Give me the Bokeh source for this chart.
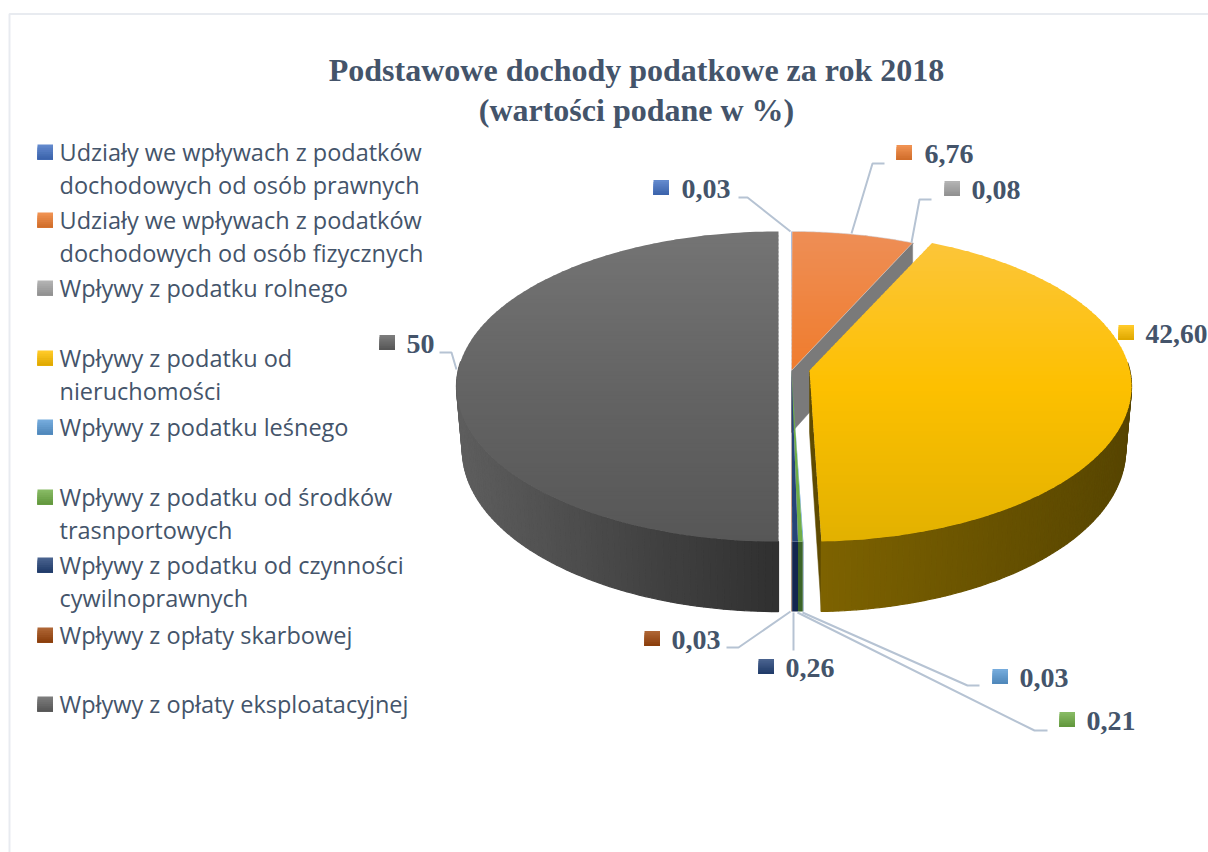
import math
from bokeh.plotting import figure
from bokeh.embed import file_html
from bokeh.resources import INLINE
from bokeh.core.properties import value

# ---- data ----
categories = [
    "Udziały we wpływach z podatków\ndochodowych od osób prawnych",
    "Udziały we wpływach z podatków\ndochodowych od osób fizycznych",
    "Wpływy z podatku rolnego",
    "Wpływy z podatku od\nnieruchomości",
    "Wpływy z podatku leśnego",
    "Wpływy z podatku od środków\ntrasnportowych",
    "Wpływy z podatku od czynności\ncywilnoprawnych",
    "Wpływy z opłaty skarbowej",
    "Wpływy z opłaty eksploatacyjnej",
]
values = [0.03, 6.76, 0.08, 42.60, 0.03, 0.21, 0.26, 0.03, 50.0]
value_labels = ["0,03", "6,76", "0,08", "42,60", "0,03", "0,21", "0,26", "0,03", "50"]
title_lines = ["Podstawowe dochody podatkowe za rok 2018", "(wartości podane w %)"]

# ---- style / layout ----
base_colors = ["#4472c4", "#ed7d31", "#a5a5a5", "#ffc000", "#5b9bd5", "#70ad47", "#264478", "#9e480e", "#636363"]
face_stops = {
    1: ("#ee8e56", "#f07a28", "#e66a1a"),
    3: ("#fcc63e", "#fdc000", "#e2b100"),
    8: ("#747474", "#646464", "#575757"),
}
wall_stops = {3: ("#7d6200", "#574500"), 8: ("#5e5e5e", "#2f2f2f")}
small_wall = {4: "#2f5f8a", 5: "#3b6428", 6: "#13264f", 7: "#5a2a08"}
TEXT = "#44546a"
LEAD = "#b6c3d3"

# slice offset centre x for each slice (explosion)
slice_cx = [791, 791, 791, 809, 791, 791, 791, 791, 778]
APEX_Y, H, K, R = 370.0, 153.4, 0.1033, 320.3
BOTTOM_SHRINK = 0.982

# legend layout: y of first line for each entry
legend_y = [151.5, 219.5, 287.5, 357.5, 426.5, 496.5, 564.5, 634.5, 703.5]
LINE_H = 32.5
# value label marker left x, marker centre y, text x, font px
label_pos = [(653, 187, 681, 28), (896, 152, 924, 28), (944, 188, 971, 28), (1118, 332, 1145, 27.5),
             (992, 676, 1019, 28), (1059, 719, 1086, 28), (758, 666, 785, 28), (644, 638, 671, 28), (379, 342, 406, 28)]
# leader paths: end of label side, elbow, anchor on the pie
leaders = {
    0: [(738, 197), (747, 197), (790, 231)],
    1: [(884, 163), (872, 163), (851, 233)],
    2: [(931, 199), (919, 199), (911, 242)],
    8: [(439, 352), (451, 352), (456, 369)],
    7: [(726, 647), (738, 647), (790, 611)],
    6: [(793, 650), (793, 612)],
    4: [(979, 685), (967, 685), (802, 612)],
    5: [(1047, 730), (1034, 730), (797, 612)],
}


def hex2rgb(c):
    return tuple(int(c[i:i + 2], 16) for i in (1, 3, 5))


def mix(a, b, t):
    ra, rb = hex2rgb(a), hex2rgb(b)
    return "#%02x%02x%02x" % tuple(round(x + (y - x) * t) for x, y in zip(ra, rb))


def lighter(c, t):
    return mix(c, "#ffffff", t)


def darker(c, t):
    return mix(c, "#000000", t)


def project(cx, theta):
    u, v = math.sin(theta), math.cos(theta)
    w = 1 + K * v
    return cx + R * u / w, APEX_Y - H * v / w


def depth(theta):
    return 62 - 8 * math.cos(theta)


def rim(cx, a0, a1, n):
    return [project(cx, a0 + (a1 - a0) * i / n) + (a0 + (a1 - a0) * i / n,) for i in range(n + 1)]


def clip_band(poly, y0, y1):
    def clip(pts, keep, cross):
        out = []
        for i, q0 in enumerate(pts):
            q1 = pts[(i + 1) % len(pts)]
            if keep(q0):
                out.append(q0)
            if keep(q0) != keep(q1):
                out.append(cross(q0, q1))
        return out

    def cr(yy):
        return lambda a, b: (a[0] + (b[0] - a[0]) * (yy - a[1]) / (b[1] - a[1]), yy)

    pts = clip(poly, lambda q: q[1] >= y0, cr(y0))
    if pts:
        pts = clip(pts, lambda q: q[1] <= y1, cr(y1))
    return pts


p = figure(width=1208, height=852, x_range=(0, 1208), y_range=(852, 0),
           output_backend="svg", toolbar_location=None, min_border=0, outline_line_color=None)
p.axis.visible = False
p.grid.visible = False
p.background_fill_color = "#ffffff"
p.border_fill_color = "#ffffff"

# chart frame
p.line([9, 9, 1208], [852, 13.5, 13.5], line_color="#e8ebf0", line_width=2)

# angles per slice
total = sum(values)
angles = []
acc = 0.0
for v in values:
    a0 = acc / total * 2 * math.pi
    acc += v
    angles.append((a0, acc / total * 2 * math.pi))


def draw_wall(points_top, cx, color_fn):
    for (x0, y0, t0), (x1, y1, t1) in zip(points_top, points_top[1:]):
        if math.cos(t0) > 0.05 and math.cos(t1) > 0.05:
            continue
        d0, d1 = depth(t0), depth(t1)
        c = color_fn((x0 + x1) / 2)
        bx0 = cx + (x0 - cx) * BOTTOM_SHRINK
        bx1 = cx + (x1 - cx) * BOTTOM_SHRINK
        p.patch([x0, x1, bx1, bx0], [y0, y1, y1 + d1, y0 + d0], fill_color=c, line_color=c, line_width=1.2)


def draw_face_gradient(poly, stops):
    ymin, ymax = APEX_Y - H / (1 + K), APEX_Y + H / (1 - K)
    ys = [q[1] for q in poly]
    lo, hi = min(ys), max(ys)
    step = 4.0
    y = lo
    while y < hi:
        band = clip_band(poly, y, min(hi, y + step + 1.0))
        if len(band) >= 3:
            t = (y + step / 2 - ymin) / (ymax - ymin)
            c = mix(stops[0], stops[1], min(1, t / 0.5)) if t < 0.5 else mix(stops[1], stops[2], (t - 0.5) / 0.5)
            p.patch([b[0] for b in band], [b[1] for b in band], fill_color=c, line_color=None)
        y += step


def draw_slice_simple(i):
    a0, a1 = angles[i]
    cx = slice_cx[i]
    r = rim(cx, a0, a1, 3)
    if i in small_wall:
        c = small_wall[i]
        p.patch([q[0] for q in r] + [q[0] for q in reversed(r)],
                [q[1] for q in r] + [q[1] + depth(q[2]) for q in reversed(r)],
                fill_color=c, line_color=None)
    p.patch([cx] + [q[0] for q in r], [APEX_Y] + [q[1] for q in r], fill_color=base_colors[i], line_color=None)


# grey (left half) walls and face
a0, a1 = angles[8]
gr = rim(slice_cx[8], a0, a1, 160)
w = wall_stops[8]
draw_wall(gr, slice_cx[8], lambda x: mix(w[0], w[1], min(1, max(0, (x - 455) / 323))))
draw_face_gradient([(q[0], q[1]) for q in gr], face_stops[8])

# back hairline slices
for i in [0, 2]:
    draw_slice_simple(i)

# orange slice: inner wall in grey, then face
a0, a1 = angles[1]
cx = slice_cx[1]
orim = rim(cx, a0, a1, 40)
ex, ey, et = orim[-1]
p.patch([cx, ex, ex, cx], [APEX_Y, ey, ey + depth(et), APEX_Y + depth(math.pi / 2)],
        fill_color="#7a7a7a", line_color="#7a7a7a", line_width=0.5)
poly = [(cx, APEX_Y)] + [(q[0], q[1]) for q in orim]
draw_face_gradient(poly, face_stops[1])
p.patch([q[0] for q in poly], [q[1] for q in poly], fill_color=None, line_color="#cfd6e0", line_width=0.8, line_alpha=0.7)

# very small front slices
for i in [7, 4, 5, 6]:
    draw_slice_simple(i)

# yellow slice: left inner wall, outer wall, face
a0, a1 = angles[3]
cx = slice_cx[3]
yr = rim(cx, a0, a1, 160)
ex, ey, et = yr[-1]
p.patch([cx, ex, ex, cx], [APEX_Y, ey, ey + depth(et), APEX_Y + depth(math.pi / 2)],
        fill_color="#5f4b00", line_color="#5f4b00", line_width=0.5)
w = wall_stops[3]
draw_wall(yr, cx, lambda x: mix(w[0], w[1], min(1, max(0, (x - 823) / 308))))
draw_face_gradient([(cx, APEX_Y)] + [(q[0], q[1]) for q in yr], face_stops[3])

# leaders
for path in leaders.values():
    p.line([q[0] for q in path], [q[1] for q in path], line_color=LEAD, line_width=2)


def marker(x, yc, color):
    """Square key with a vertical gradient; each band runs to the key's foot and is painted over by the next."""
    n = 8
    top, bot = lighter(color, 0.16), darker(color, 0.12)
    for k in range(n):
        c = mix(top, bot, k / (n - 1))
        p.quad(left=[x], right=[x + 15.5], top=[yc - 7.5 + k * 15 / n], bottom=[yc + 7.5],
               fill_color=c, line_color=None)


# value labels
for (mx, my, tx, fs), lab, col in zip(label_pos, value_labels, base_colors):
    marker(mx, my, col)
    p.text([tx], [my + 1.5], text=[lab], text_font=value("Liberation Serif"), text_font_style="bold",
           text_font_size=f"{fs}px", text_color=TEXT, text_baseline="middle", text_align="left")

# legend
for cat, y, col in zip(categories, legend_y, base_colors):
    marker(37, y, col)
    for j, line in enumerate(cat.split("\n")):
        p.text([59], [y + j * LINE_H], text=[line], text_font=value("Open Sans"),
               text_font_size="23.5px", text_color=TEXT, text_baseline="middle", text_align="left")

# title
for line, y in zip(title_lines, [69, 109]):
    p.text([636], [y], text=[line], text_font=value("Liberation Serif"), text_font_style="bold",
           text_font_size="32px", text_color=TEXT, text_baseline="middle", text_align="center")

open("out.html", "w").write(file_html(p, INLINE))
